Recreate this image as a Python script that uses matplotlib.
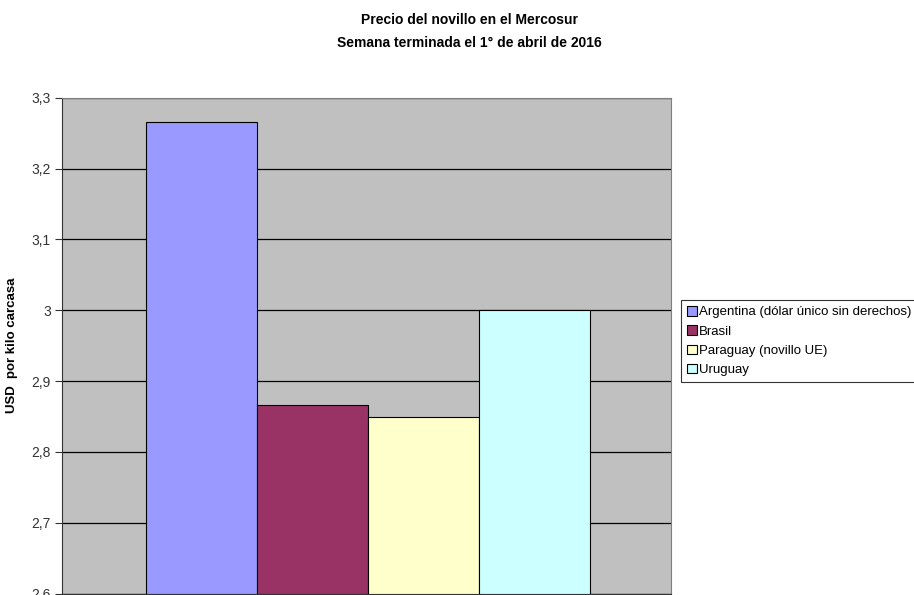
import matplotlib.pyplot as plt
import numpy as np
from matplotlib.ticker import FuncFormatter

plt.rcParams["font.family"] = ["Liberation Sans", "DejaVu Sans"]

# Data
series = [
    "Argentina (dólar único sin derechos)",
    "Brasil",
    "Paraguay (novillo UE)",
    "Uruguay",
]
values = [3.266, 2.866, 2.850, 3.000]
colors = ["#9999FF", "#993366", "#FFFFCC", "#CCFFFF"]
yticks = [2.6, 2.7, 2.8, 2.9, 3.0, 3.1, 3.2, 3.3]

fig = plt.figure(figsize=(9.14, 5.95), dpi=100)
ax = fig.add_axes([0.0678, 0.0025, 0.666, 0.833])
ax.set_facecolor("#C0C0C0")

x = np.arange(len(values))
for i, (name, v, c) in enumerate(zip(series, values, colors)):
    ax.bar(x[i], v - 2.6, bottom=2.6, width=1.0, color=c,
           edgecolor="black", linewidth=0.8, label=name, zorder=3)

ax.set_xlim(-0.5 - 0.757, 3.5 + 0.73)
ax.set_ylim(2.6, 3.3)
ax.set_yticks(yticks)
ax.yaxis.set_major_formatter(FuncFormatter(
    lambda v, p: ("%g" % round(v, 1)).replace(".", ",")))
ax.tick_params(axis="y", labelsize=10, length=5, width=0.8, colors="#333333",
               labelcolor="#333333", pad=3)
ax.set_xticks([])
ax.grid(axis="y", color="black", linewidth=0.9, zorder=1)
for side in ["top", "right"]:
    ax.spines[side].set_color("#808080")
ax.spines["left"].set_color("#333333")
ax.spines["bottom"].set_color("#333333")

ax.set_ylabel("USD  por kilo carcasa", fontsize=9.5, fontweight="bold", labelpad=10)

fig.text(0.514, 0.966, "Precio del novillo en el Mercosur", ha="center",
         va="center", fontsize=10, fontweight="bold")
fig.text(0.514, 0.928, "Semana terminada el 1° de abril de 2016", ha="center",
         va="center", fontsize=10, fontweight="bold")

# legend box runs past the right edge, as in the original
leg = fig.legend(loc="upper left", mode="expand",
                 bbox_to_anchor=(0.745, 1 - 300 / 595 - 0.01, 0.27, 0.01),
                 fontsize=9.5, frameon=True, fancybox=False, edgecolor="black",
                 handlelength=0.75, handleheight=0.75, handletextpad=0.15,
                 borderpad=0.45, labelspacing=0.52, borderaxespad=0)
leg.get_frame().set_linewidth(0.8)

fig.savefig("out.png", dpi=100)
